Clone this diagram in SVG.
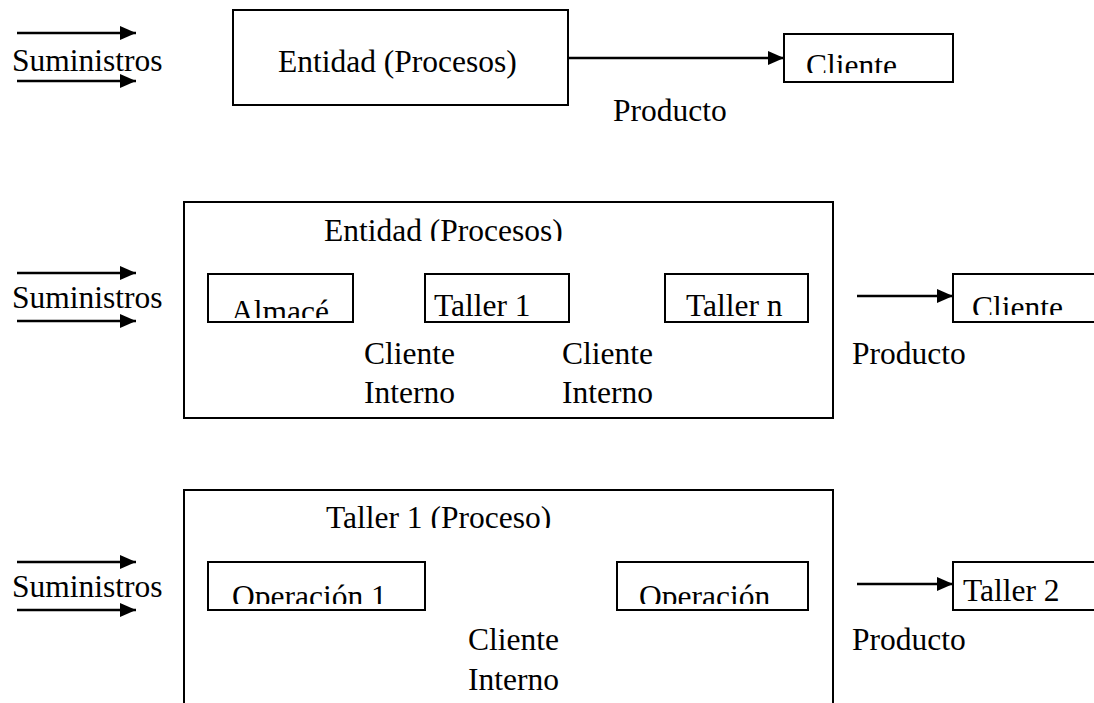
<svg xmlns="http://www.w3.org/2000/svg" width="1094" height="703" viewBox="0 0 1094 703">
<style>
text{font-family:"Liberation Serif","Times New Roman",serif;font-size:31.5px;fill:#000}
.box{fill:#fff;stroke:#000;stroke-width:2}
.conn{stroke:#000;stroke-width:2.5;fill:none;marker-end:url(#ah)}
</style>
<defs>
<marker id="ah" markerUnits="userSpaceOnUse" markerWidth="16" markerHeight="14" refX="16" refY="7" orient="auto">
<path d="M0,0 L16,7 L0,14 z" fill="#000"/>
</marker>
<clipPath id="c1"><rect x="785" y="35" width="167" height="38"/></clipPath>
<clipPath id="c2"><rect x="320" y="205" width="300" height="36"/></clipPath>
<clipPath id="c3"><rect x="209" y="275" width="143" height="43"/></clipPath>
<clipPath id="c4"><rect x="954" y="275" width="140" height="40"/></clipPath>
<clipPath id="c5"><rect x="320" y="492" width="300" height="36"/></clipPath>
<clipPath id="c6"><rect x="209" y="563" width="215" height="41"/></clipPath>
<clipPath id="c7"><rect x="618" y="563" width="189" height="41"/></clipPath>
</defs>

<g id="connectors">
<line class="conn" x1="17" y1="33" x2="136" y2="33"/>
<line class="conn" x1="17" y1="81" x2="136" y2="81"/>
<line class="conn" x1="568" y1="58" x2="784" y2="58"/>
<line class="conn" x1="17" y1="273" x2="136" y2="273"/>
<line class="conn" x1="17" y1="321" x2="136" y2="321"/>
<line class="conn" x1="353" y1="296" x2="401" y2="296"/>
<line class="conn" x1="569" y1="296" x2="665" y2="296"/>
<line class="conn" x1="857" y1="296" x2="953" y2="296"/>
<line class="conn" x1="17" y1="562" x2="136" y2="562"/>
<line class="conn" x1="17" y1="610" x2="136" y2="610"/>
<line class="conn" x1="450" y1="584" x2="544" y2="584"/>
<line class="conn" x1="857" y1="584" x2="953" y2="584"/>
</g>

<g id="row1">
<text x="12" y="71">Suministros</text>
<g id="entidad1"><rect class="box" x="233" y="10" width="335" height="95"/><text x="278" y="72">Entidad (Procesos)</text></g>
<g id="cliente1"><rect class="box" x="784" y="34" width="169" height="48"/><text x="806" y="76" clip-path="url(#c1)">Cliente</text></g>
<text x="613" y="121">Producto</text>
</g>

<g id="row2">
<text x="12" y="308">Suministros</text>
<g id="entidad2"><rect class="box" x="184" y="202" width="649" height="216"/><text x="324" y="241" clip-path="url(#c2)">Entidad (Procesos)</text></g>
<g id="almace"><rect class="box" x="208" y="274" width="145" height="48"/><text x="231" y="322" clip-path="url(#c3)">Almacé</text></g>
<g id="taller1"><rect class="box" x="425" y="274" width="144" height="48"/><text x="434" y="316">Taller 1</text></g>
<g id="tallern"><rect class="box" x="665" y="274" width="143" height="48"/><text x="686" y="316">Taller n</text></g>
<g id="cliente2"><rect class="box" x="953" y="274" width="150" height="48"/><text x="972" y="318" clip-path="url(#c4)">Cliente</text></g>
<text x="364" y="364">Cliente</text>
<text x="364" y="403">Interno</text>
<text x="562" y="364">Cliente</text>
<text x="562" y="403">Interno</text>
<text x="852" y="364">Producto</text>
</g>

<g id="row3">
<text x="12" y="597">Suministros</text>
<g id="taller1p"><rect class="box" x="184" y="490" width="649" height="230"/><text x="326" y="528" clip-path="url(#c5)">Taller 1 (Proceso)</text></g>
<g id="op1"><rect class="box" x="208" y="562" width="217" height="48"/><text x="232" y="607" clip-path="url(#c6)">Operación 1</text></g>
<g id="opn"><rect class="box" x="617" y="562" width="191" height="48"/><text x="639" y="607" clip-path="url(#c7)">Operación</text></g>
<g id="taller2"><rect class="box" x="953" y="562" width="150" height="48"/><text x="963" y="601">Taller 2</text></g>
<text x="468" y="650">Cliente</text>
<text x="468" y="690">Interno</text>
<text x="852" y="650">Producto</text>
</g>
</svg>
